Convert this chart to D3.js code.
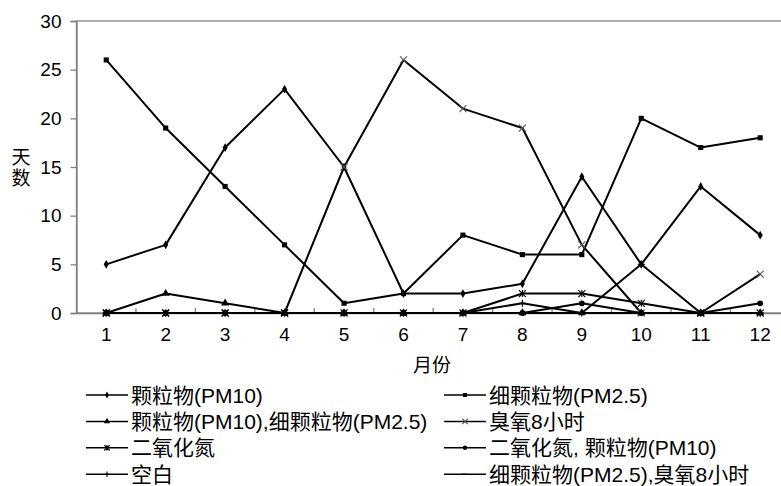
<!DOCTYPE html>
<html>
<head>
<meta charset="utf-8">
<script src="https://cdn.jsdelivr.net/npm/d3@7"></script>
<style>
  body { margin: 0; background: #fff; }
  svg { display: block; font-family: "Liberation Sans", Arial, "Noto Sans CJK SC", sans-serif; }
</style>
</head>
<body>
<div id="chart"></div>
<script>
// months on the x axis
const months = ["1", "2", "3", "4", "5", "6", "7", "8", "9", "10", "11", "12"];
const yTicks = [0, 5, 10, 15, 20, 25, 30];

// days per month for each primary pollutant
const pm10      = [5, 7, 17, 23, 15, 2, 2, 3, 14, 5, 13, 8];
const pm25      = [26, 19, 13, 7, 1, 2, 8, 6, 6, 20, 17, 18];
const pm10pm25  = [0, 2, 1, 0, 0, 0, 0, 0, 0, 0, 0, 0];
const o3        = [0, 0, 0, 0, 15, 26, 21, 19, 7, 0, 0, 4];
const no2       = [0, 0, 0, 0, 0, 0, 0, 2, 2, 1, 0, 0];
const no2pm10   = [0, 0, 0, 0, 0, 0, 0, 0, 1, 0, 0, 1];
const blank     = [0, 0, 0, 0, 0, 0, 0, 1, 0, 5, 0, 0];
const pm25o3    = [0, 0, 0, 0, 0, 0, 0, 0, 0, 0, 0, 0];

const seriesNames = ["颗粒物(PM10)", "细颗粒物(PM2.5)", "颗粒物(PM10),细颗粒物(PM2.5)", "臭氧8小时",
                     "二氧化氮", "二氧化氮, 颗粒物(PM10)", "空白", "细颗粒物(PM2.5),臭氧8小时"];
const seriesValues = [pm10, pm25, pm10pm25, o3, no2, no2pm10, blank, pm25o3];
const markerKinds = ["diamond", "square", "triangle", "times", "asterisk", "circle", "plus", "dash"];

const W = 781, H = 486;
const plotLeft = 76.5, plotTop = 21, plotBottom = 313, plotRight = 789.9;
const svg = d3.select("#chart").append("svg").attr("width", W).attr("height", H);

const x = d3.scaleBand().domain(months).range([plotLeft, plotRight]).padding(0);
const y = d3.scaleLinear().domain([0, 30]).range([plotBottom, plotTop]);
const cx = m => x(m) + x.bandwidth() / 2;

// frame
svg.append("rect").attr("x", plotLeft).attr("y", plotTop)
  .attr("width", plotRight - plotLeft).attr("height", plotBottom - plotTop)
  .attr("fill", "none").attr("stroke", "#808080").attr("stroke-width", 1.3);

// y axis
const yAxis = svg.append("g").attr("transform", `translate(${plotLeft},0)`)
  .call(d3.axisLeft(y).tickValues(yTicks).tickSize(6).tickPadding(9));
yAxis.select(".domain").attr("stroke", "#808080").attr("stroke-width", 1.3);
yAxis.selectAll(".tick line").attr("stroke", "#808080").attr("stroke-width", 1.3);
yAxis.selectAll("text").attr("font-size", 19).attr("fill", "#000")
  .attr("font-family", "Liberation Sans, Arial, sans-serif");

// x axis
const xAxis = svg.append("g").attr("transform", `translate(0,${plotBottom})`)
  .call(d3.axisBottom(x).tickSize(0).tickPadding(15));
xAxis.select(".domain").attr("stroke", "#808080").attr("stroke-width", 1.3);
xAxis.selectAll("text").attr("font-size", 19).attr("fill", "#000")
  .attr("font-family", "Liberation Sans, Arial, sans-serif");
// category boundary ticks (pointing up)
svg.append("g").selectAll("line").data(months.slice(1)).join("line")
  .attr("x1", d => x(d)).attr("x2", d => x(d))
  .attr("y1", plotBottom).attr("y2", plotBottom - 5)
  .attr("stroke", "#808080").attr("stroke-width", 1.3);

// axis titles
svg.append("text").attr("x", 21).attr("y", 147)
  .attr("font-size", 19).attr("font-family", "Noto Sans CJK SC, sans-serif")
  .attr("writing-mode", "tb").attr("letter-spacing", 2).attr("text-anchor", "start")
  .text("天数");
svg.append("text").attr("x", 432).attr("y", 372).attr("text-anchor", "middle")
  .attr("font-size", 19).attr("font-family", "Noto Sans CJK SC, sans-serif").text("月份");

// marker drawing
function drawMarker(g, kind, px, py, s) {
  if (kind === "diamond") {
    g.append("path").attr("d", d3.symbol(d3.symbolDiamond, 22 * s)())
      .attr("transform", `translate(${px},${py})`).attr("fill", "#000");
  } else if (kind === "square") {
    g.append("path").attr("d", d3.symbol(d3.symbolSquare, 26 * s)())
      .attr("transform", `translate(${px},${py})`).attr("fill", "#000");
  } else if (kind === "triangle") {
    g.append("path").attr("d", d3.symbol(d3.symbolTriangle, 28 * s)())
      .attr("transform", `translate(${px},${py})`).attr("fill", "#000");
  } else if (kind === "circle") {
    g.append("path").attr("d", d3.symbol(d3.symbolCircle, 26 * s)())
      .attr("transform", `translate(${px},${py})`).attr("fill", "#000");
  } else {
    const r = 3.5 * Math.sqrt(s);
    let d = "";
    if (kind === "times" || kind === "asterisk")
      d += `M${-r},${-r}L${r},${r}M${-r},${r}L${r},${-r}`;
    if (kind === "asterisk" || kind === "plus") d += `M0,${-r}L0,${r}`;
    if (kind === "plus" || kind === "dash") d += `M${-r},0L${r},0`;
    g.append("path").attr("d", d).attr("transform", `translate(${px},${py})`)
      .attr("stroke", kind === "times" ? "#555" : "#000").attr("stroke-width", 1.1).attr("fill", "none");
  }
}

// series lines
const line = d3.line().x((d, i) => cx(months[i])).y(d => y(d));
const plot = svg.append("g");
seriesValues.forEach((vals, k) => {
  const g = plot.append("g");
  g.append("path").attr("d", line(vals)).attr("fill", "none")
    .attr("stroke", "#000").attr("stroke-width", 2).attr("stroke-linejoin", "round");
  vals.forEach((v, i) => drawMarker(g, markerKinds[k], cx(months[i]), y(v), 1));
});

// legend, two columns
const legend = svg.append("g");
seriesNames.forEach((name, k) => {
  const col = k % 2, row = Math.floor(k / 2);
  const lx = col === 0 ? 86 : 444, ly = 395 + row * 26.4;
  const g = legend.append("g");
  g.append("line").attr("x1", lx).attr("x2", lx + 42).attr("y1", ly).attr("y2", ly)
    .attr("stroke", "#000").attr("stroke-width", 1.5);
  drawMarker(g, markerKinds[k], lx + 21, ly, 0.6);
  g.append("text").attr("x", lx + 45).attr("y", ly + 7.5).attr("font-size", 21)
    .attr("font-family", "Liberation Sans, Arial, Noto Sans CJK SC, sans-serif").text(name);
});
</script>
</body>
</html>
